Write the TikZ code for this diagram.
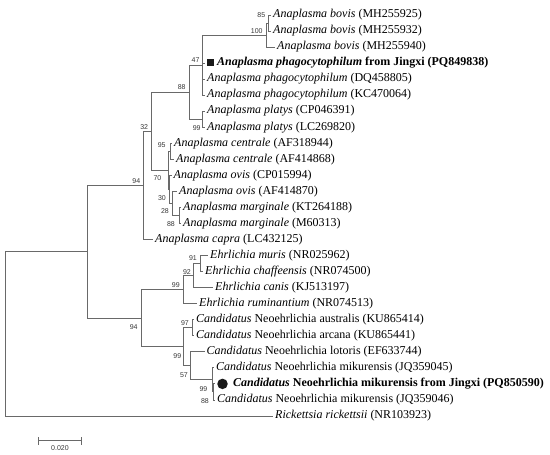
\documentclass[tikz,border=0pt]{standalone}
\usepackage{fontspec}
\setmainfont{Liberation Serif}
\newfontfamily\bootfont{Liberation Sans}
\usetikzlibrary{arrows}
\definecolor{treegray}{RGB}{105,105,105}
\definecolor{bootgray}{RGB}{55,55,55}
\tikzstyle{leaf}=[anchor=west, inner xsep=2pt, inner ysep=0pt, text height=8pt, text depth=2.5pt, font=\fontsize{12}{14}\selectfont]
\tikzstyle{branch}=[draw=treegray, line width=0.9pt]
\tikzstyle{boot}=[inner sep=0pt, text=bootgray, font=\bootfont\fontsize{7}{8}\selectfont]
\tikzstyle{marker}=[fill=black!90, inner sep=0pt]

\begin{document}
\begin{tikzpicture}[x=1pt, y=-1pt]
\useasboundingbox (0,0) rectangle (550,455);

  \def\dy{16.04};

  \foreach \i/\x/\name/\label in {
    1/271/l1/{\textit{Anaplasma bovis} (MH255925)},
    2/271/l2/{\textit{Anaplasma bovis} (MH255932)},
    3/275/l3/{\textit{Anaplasma bovis} (MH255940)},
    4/205/l4/{\hspace{10pt}\textbf{\textit{Anaplasma phagocytophilum} from Jingxi (PQ849838)}},
    5/205/l5/{\textit{Anaplasma phagocytophilum} (DQ458805)},
    6/205/l6/{\textit{Anaplasma phagocytophilum} (KC470064)},
    7/205/l7/{\textit{Anaplasma platys} (CP046391)},
    8/205/l8/{\textit{Anaplasma platys} (LC269820)},
    9/172/l9/{\textit{Anaplasma centrale} (AF318944)},
    10/174/l10/{\textit{Anaplasma centrale} (AF414868)},
    11/171.5/l11/{\textit{Anaplasma ovis} (CP015994)},
    12/177/l12/{\textit{Anaplasma ovis} (AF414870)},
    13/181/l13/{\textit{Anaplasma marginale} (KT264188)},
    14/181/l14/{\textit{Anaplasma marginale} (M60313)},
    15/153/l15/{\textit{Anaplasma capra} (LC432125)},
    16/208/l16/{\textit{Ehrlichia muris} (NR025962)},
    17/203/l17/{\textit{Ehrlichia chaffeensis} (NR074500)},
    18/213/l18/{\textit{Ehrlichia canis} (KJ513197)},
    19/197/l19/{\textit{Ehrlichia ruminantium} (NR074513)},
    20/194/l20/{\textit{Candidatus} Neoehrlichia australis (KU865414)},
    21/194/l21/{\textit{Candidatus} Neoehrlichia arcana (KU865441)},
    22/204.5/l22/{\textit{Candidatus} Neoehrlichia lotoris (EF633744)},
    23/214/l23/{\textit{Candidatus} Neoehrlichia mikurensis (JQ359045)},
    24/215/l24/{\hspace{16pt}\textbf{\textit{Candidatus} Neoehrlichia mikurensis from Jingxi (PQ850590)}},
    25/215/l25/{\textit{Candidatus} Neoehrlichia mikurensis (JQ359046)},
    26/273/l26/{\textit{Rickettsia rickettsii} (NR103923)}}
          \node[leaf] (\name) at (\x, {15+\dy*(\i-1)}) {\label};

  \foreach \x/\y/\name in {268/23.02/n85, 266/35.05/n100, 202.7/65.13/n47, 202/119.26/npl,
      189/92.2/n88, 170/151.34/n95, 179/215.5/nm88, 172/203.47/n28, 169.5/189.44/n30,
      168.5/170.39/n70, 151.7/131.3/n32, 143.3/185.43/nA94, 200.7/263.62/n91,
      193.3/275.65/n92, 183.3/289.69/nE99, 192.7/327.78/n97, 213.5/391.94/nc88,
      212/379.91/nm99, 190.7/365.88/n57, 183.3/346.83/nN99, 141.7/318.26/nE94,
      87.3/251.85/nAna, 5/333.9/root}
          \coordinate (\name) at (\x, \y);

  \foreach \source/ \dest in {n85/l1, n85/l2, n100/n85, n100/l3, n47/n100, n47/l4, n47/l5, n47/l6,
      npl/l7, npl/l8, n88/n47, n88/npl, n95/l9, n95/l10, nm88/l13, nm88/l14, n28/l12, n28/nm88,
      n30/l11, n30/n28, n70/n95, n70/n30, n32/n88, n32/n70, nA94/n32, nA94/l15,
      n91/l16, n91/l17, n92/n91, n92/l18, nE99/n92, nE99/l19, n97/l20, n97/l21,
      nc88/l24, nc88/l25, nm99/l23, nm99/nc88, n57/l22, n57/nm99, nN99/n97, nN99/n57,
      nE94/nE99, nE94/nN99, nAna/nA94, nAna/nE94, root/nAna, root/l26}
         \draw[branch] (\source) |- (\dest);

  \foreach \x/\y/\name/\val in {261.3/15/b85/85, 256.7/30.7/b100/100, 195.5/60/b47/47,
      181.7/87.3/b88a/88, 196.7/128.3/b99a/99, 144.2/126.7/b32/32, 161.7/145/b95/95,
      157.5/178.5/b70/70, 162/198/b30/30, 165/211/b28/28, 171/224/b88b/88,
      136.3/180.7/b94a/94, 193/258.3/b91/91, 187/271.7/b92/92, 175.8/285/b99b/99,
      185/322.7/b97/97, 177.3/356/b99c/99, 184/375/b57/57, 203.5/389/b99d/99,
      205/401.5/b88c/88, 133.7/327.3/b94b/94}
          \node[boot] (\name) at (\x, \y) {\val};

  \node[marker, minimum size=7pt] (mk1) at (210.7, 62.4) {};
  \node[marker, circle, minimum size=10.5pt] (mk2) at (222.5, 383.9) {};

  \coordinate (sb1) at (38.3, 440.7);
  \coordinate (sb2) at (81.7, 440.7);
  \draw[branch, |-|] (sb1) -- (sb2);
  \node[boot] (sbt) at (60, 448.5) {0.020};

\end{tikzpicture}
\end{document}
